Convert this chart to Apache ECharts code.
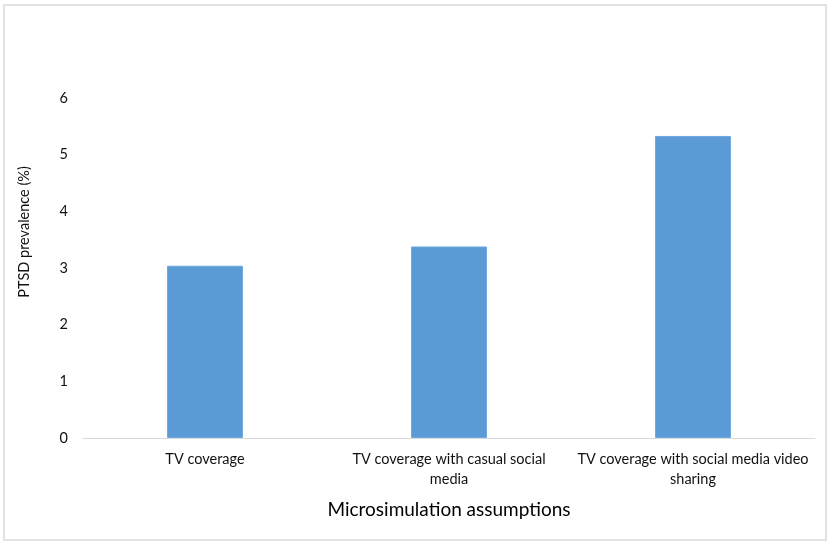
<!DOCTYPE html>
<html><head><meta charset="utf-8">
<script src="https://cdn.jsdelivr.net/npm/echarts@6/dist/echarts.min.js"></script>
<style>html,body{margin:0;padding:0;background:#fff}
#c{width:829px;height:545px;position:absolute;left:0;top:0}
#b{position:absolute;left:3px;top:4px;width:820px;height:533px;border:2px solid #e2e2e2;pointer-events:none}</style>
</head><body><div id="c"></div><div id="b"></div>
<script>
const categories = ['TV coverage', 'TV coverage with casual social\nmedia', 'TV coverage with social media video\nsharing'];
const prevalence = [3.04, 3.38, 5.33];
const yTicks = [0, 6, 1];
const chart = echarts.init(document.getElementById('c'));
const font = 'Lato, "Noto Sans", sans-serif';
chart.setOption({
  animation: false,
  textStyle: {fontFamily: font},
  grid: {left: 83, right: 14, top: 98, bottom: 107},
  xAxis: {
    type: 'category', data: categories,
    name: 'Microsimulation assumptions', nameLocation: 'middle', nameGap: 62,
    nameMoveOverlap: false,
    nameTextStyle: {fontSize: 19, color: '#000', fontFamily: font},
    axisLine: {lineStyle: {color: '#d9d9d9', width: 1}},
    axisTick: {show: false},
    axisLabel: {interval: 0, fontSize: 14.5, color: '#111', margin: 11, lineHeight: 20, fontFamily: font}
  },
  yAxis: {
    type: 'value', min: yTicks[0], max: yTicks[1], interval: yTicks[2],
    name: 'PTSD prevalence (%)', nameLocation: 'middle', nameGap: 51,
    nameMoveOverlap: false,
    nameTextStyle: {fontSize: 14.5, color: '#111', fontFamily: font, padding: [0, 0, 0, 72]},
    axisLine: {show: false}, axisTick: {show: false},
    splitLine: {show: false},
    axisLabel: {fontSize: 14.5, color: '#111', margin: 15, fontFamily: font}
  },
  series: [{
    type: 'bar', data: prevalence, barWidth: 76,
    itemStyle: {color: '#5b9bd5', borderColor: '#70a9e0', borderWidth: 1}
  }]
});
</script></body></html>
